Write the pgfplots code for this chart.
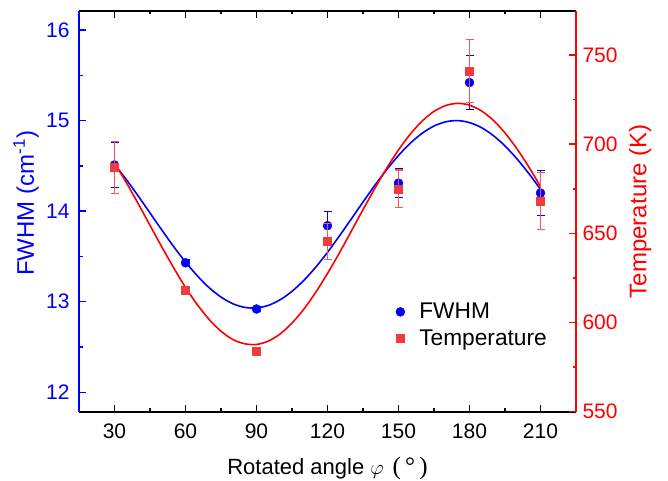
\documentclass[border=0pt]{standalone}
\usepackage{fontspec}
\setmainfont{Liberation Sans}
\newfontfamily\serifb{Liberation Serif}
\usepackage{pgfplots}
\usepackage{pgfplotstable}
\pgfplotsset{compat=1.18}
\definecolor{mred}{RGB}{240,60,60}
\definecolor{ered}{RGB}{240,90,90}

\pgfplotstableread{
x y e
30 14.51 0.25
60 13.43 0.03
90 12.92 0.03
120 13.84 0.16
150 14.31 0.16
180 15.42 0.30
210 14.20 0.25
}\fwhm

\pgfplotstableread{
x y e
30 687 14.7
60 618.4 2
90 584 2
120 645.5 10
150 675 10.5
180 741 17.6
210 668 16
}\temp

\pgfplotsset{mycommon/.style={
  width=497pt, height=400.7pt, scale only axis,
  xmin=15, xmax=225,
  major tick length=0pt, minor tick length=0pt,
  /pgf/number format/assume math mode=true,
  tick label style={font=\fontsize{21}{24}\selectfont},
  label style={font=\fontsize{24}{28}\selectfont},
}}

\begin{document}
\begin{tikzpicture}
\begin{axis}[mycommon, at={(0,0)}, anchor=south west,
  axis y line*=left,
  xtick={30,60,...,210},
  xticklabel style={yshift=-9pt},
  ymin=11.786, ymax=16.21, ytick={12,13,14,15,16},
  x axis line style={black, line width=1.6pt},
  y axis line style={blue, line width=1.6pt},
  yticklabel style={blue, xshift=-6pt},
  xlabel={Rotated angle\hspace{6pt}$\varphi$\hspace{9pt}{\serifb\fontsize{25}{30}\selectfont(\,°\,)}},
  xlabel style={font=\fontsize{22}{26}\selectfont, at={(axis description cs:0.5,0)}, yshift=-62.3pt, anchor=base},
  ylabel={FWHM (cm\textsuperscript{-1})},
  ylabel style={blue, at={(axis description cs:-0.1066,0.52)}, anchor=center},
]
\addplot[blue, line width=1.6pt, smooth] coordinates {
(30,14.517) (35,14.349) (40,14.168) (45,13.980) (50,13.792) (55,13.609)
(60,13.439) (65,13.286) (70,13.155) (75,13.052) (80,12.978) (85,12.938)
(90,12.932) (95,12.960) (100,13.022) (105,13.115) (110,13.236) (115,13.381)
(120,13.546) (125,13.725) (130,13.912) (135,14.101) (140,14.285) (145,14.458)
(150,14.615) (155,14.751) (160,14.860) (165,14.940) (170,14.987) (175,15.000)
(180,14.978) (185,14.923) (190,14.836) (195,14.720) (200,14.579) (205,14.418)
(210,14.241)};
\addplot[only marks, mark=*, blue, mark size=4.5pt,
  error bars/.cd, y dir=both, y explicit,
  error bar style={line width=1.2pt, draw=blue},
  error mark options={rotate=90, line width=1.2pt, mark size=4pt, draw=blue}]
  table[x=x, y=y, y error=e] {\fwhm};
\end{axis}

\begin{axis}[mycommon, at={(0,0)}, anchor=south west,
  axis x line=none, axis y line*=right,
  ymin=550, ymax=774.7, ytick={550,600,650,700,750},
  y axis line style={red, line width=1.6pt},
  yticklabel style={red, xshift=3pt},
  ylabel={Temperature (K)},
  ylabel style={red, at={(axis description cs:1.129,0.5)}, anchor=center},
  legend style={draw=none, fill=none, at={(axis description cs:0.62,0.281)},
    anchor=north west, font=\fontsize{22.7}{26}\selectfont, row sep=5pt},
  legend cell align=left,
  legend image code/.code={\path[draw=none] (0pt,0pt) (27pt,0pt);
    \draw[#1] plot coordinates {(10pt,0pt)};},
]
\addlegendimage{only marks, mark=*, blue, mark size=4.5pt}
\addlegendentry{FWHM}
\addplot[red, line width=1.6pt, smooth, forget plot] coordinates {
(30,689.5) (35,678.5) (40,666.7) (45,654.5) (50,642.4) (55,630.7)
(60,619.7) (65,610.0) (70,601.7) (75,595.1) (80,590.5) (85,588.1)
(90,587.7) (95,589.6) (100,593.6) (105,599.7) (110,607.5) (115,616.9)
(120,627.5) (125,639.0) (130,651.1) (135,663.3) (140,675.2) (145,686.5)
(150,696.8) (155,705.7) (160,713.0) (165,718.4) (170,721.7) (175,722.9)
(180,721.9) (185,718.7) (190,713.5) (195,706.3) (200,697.5) (205,687.4)
(210,676.2)};
\addplot[only marks, mark=square*, mred, mark size=4pt,
  error bars/.cd, y dir=both, y explicit,
  error bar style={line width=1.2pt, draw=ered},
  error mark options={rotate=90, line width=1.2pt, mark size=4pt, draw=ered}]
  table[x=x, y=y, y error=e] {\temp};
\addlegendentry{Temperature}
\end{axis}
% tick marks on the axis frame (frame: 0..497pt by 0..400.7pt)
\foreach \v in {30,60,90,120,150,180,210} {
  \draw[black, line width=1.5pt] ({(\v-15)/210*497pt},0pt) -- ++(0pt,7pt);
  \draw[black, line width=1.5pt] ({(\v-15)/210*497pt},400.7pt) -- ++(0pt,-7pt);
}
\foreach \v in {45,75,105,135,165,195} {
  \draw[black, line width=1.5pt] ({(\v-15)/210*497pt},0pt) -- ++(0pt,3.5pt);
  \draw[black, line width=1.5pt] ({(\v-15)/210*497pt},400.7pt) -- ++(0pt,-3.5pt);
}
\foreach \v in {12,13,14,15,16} {
  \draw[blue, line width=1.5pt] (0pt,{(\v-11.786)*90.574pt}) -- ++(7pt,0pt);
}
\foreach \v in {12.5,13.5,14.5,15.5} {
  \draw[blue, line width=1.5pt] (0pt,{(\v-11.786)*90.574pt}) -- ++(3.5pt,0pt);
}
\foreach \v in {550,600,650,700,750} {
  \draw[red, line width=1.5pt] (497pt,{(\v-550)*1.78327pt}) -- ++(-7pt,0pt);
}
\foreach \v in {575,625,675,725} {
  \draw[red, line width=1.5pt] (497pt,{(\v-550)*1.78327pt}) -- ++(-3.5pt,0pt);
}
\pgfresetboundingbox
\path[use as bounding box] (-79pt,-68.3pt) rectangle (589pt,411.7pt);
\end{tikzpicture}
\end{document}
